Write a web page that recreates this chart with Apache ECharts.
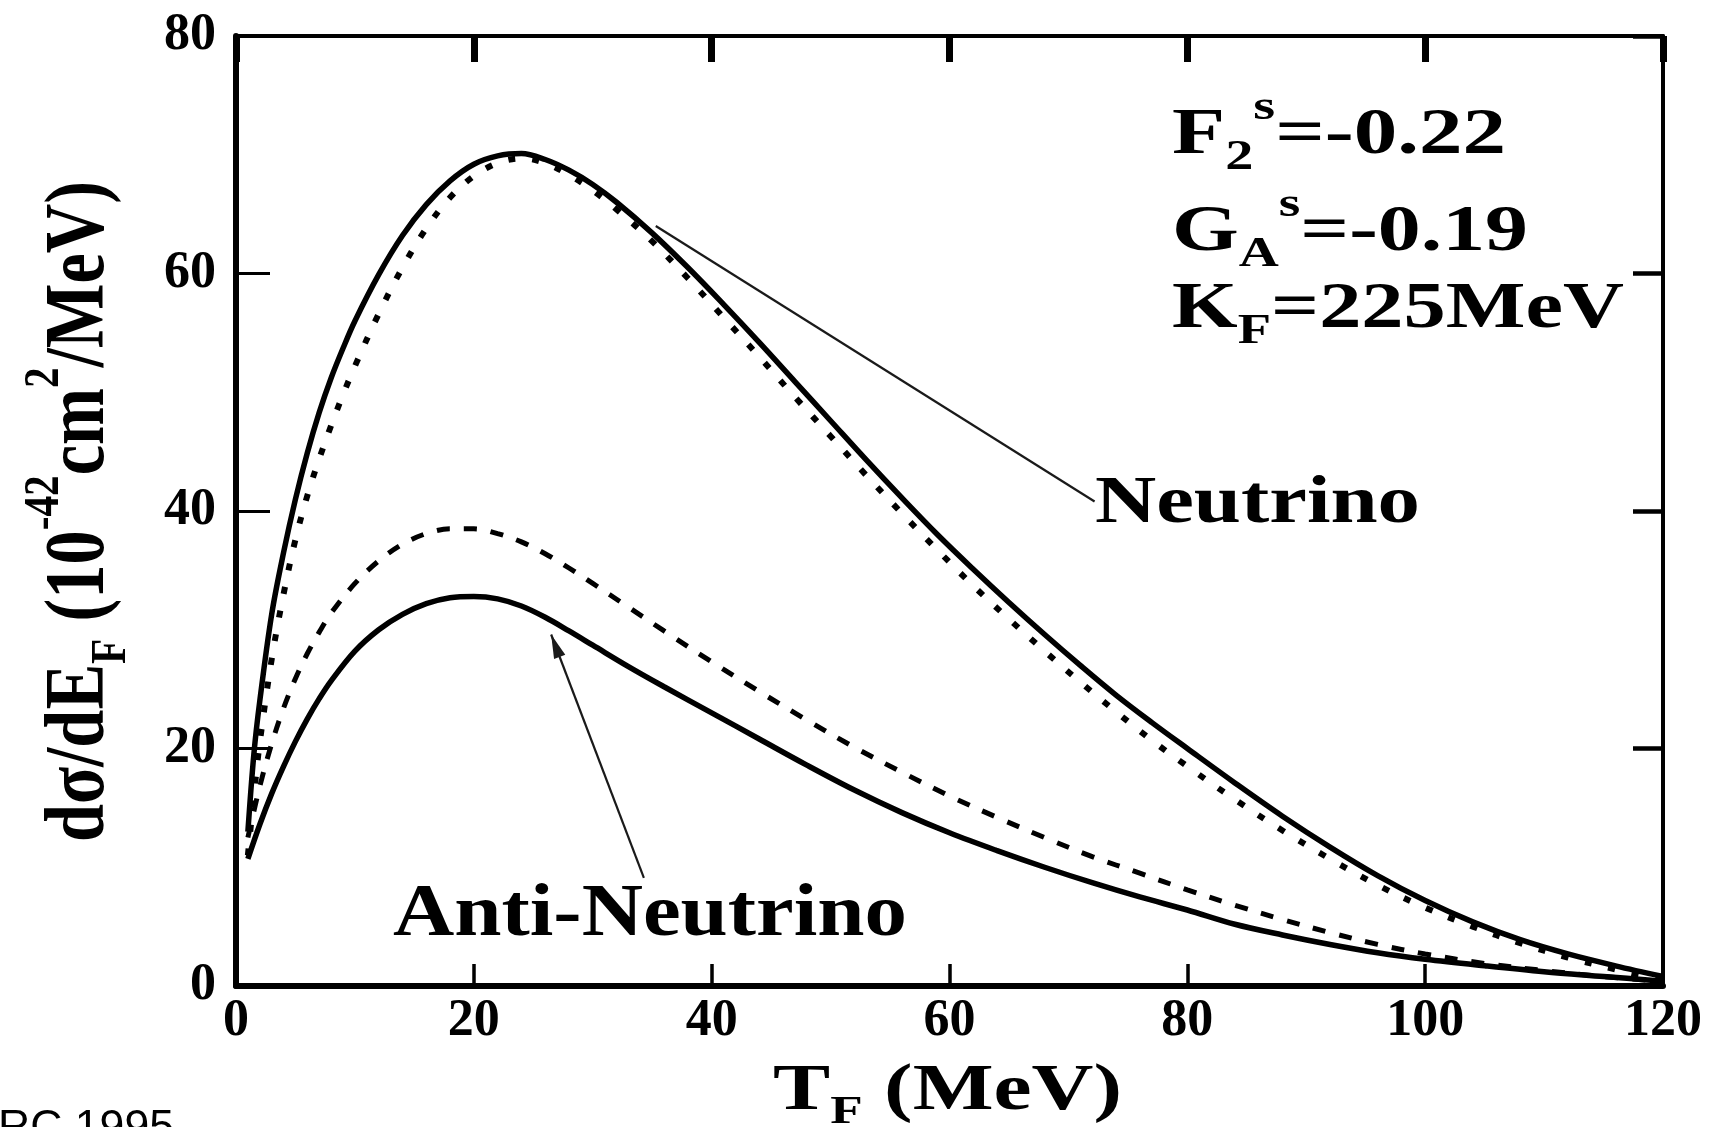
<!DOCTYPE html>
<html>
<head>
<meta charset="utf-8">
<script src="https://cdn.jsdelivr.net/npm/echarts@6/dist/echarts.min.js"></script>
<style>
  html, body { margin: 0; padding: 0; background: #fff; }
  #chart { width: 1717px; height: 1127px; }
</style>
</head>
<body>
<div id="chart"></div>
<script>
// Kinetic energy of the outgoing nucleon T_F (MeV) and dσ/dE_F (10^-42 cm^2/MeV)
const tNu      = [1, 1.5, 2, 3, 4, 5, 6, 7, 8, 9, 10, 12, 14, 16, 18, 20, 22, 24, 26, 28, 30, 32, 35, 38, 41, 44, 47, 50, 53, 56, 59, 62, 65, 68, 71, 74, 77, 80, 84, 88, 92, 96, 100, 104, 108, 112, 116, 120];
const nuSolid  = [13, 19.5, 24, 31.3, 36.5, 41, 44.9, 48.3, 51.2, 53.7, 56, 59.9, 63.2, 65.8, 67.8, 69.2, 69.9, 70.1, 69.6, 68.7, 67.5, 66, 63.4, 60.5, 57.4, 54.2, 50.9, 47.6, 44.3, 41.1, 38, 35.1, 32.3, 29.6, 27, 24.5, 22.2, 20, 17.1, 14.3, 11.7, 9.3, 7.2, 5.4, 3.9, 2.7, 1.7, 0.8];
const nuDotted = [11, 16, 20.5, 27.5, 33, 37.6, 41.3, 44.4, 47.2, 49.8, 52.2, 56.6, 60.5, 63.8, 66.4, 68.2, 69.3, 69.7, 69.3, 68.3, 67, 65.4, 62.7, 59.6, 56.3, 53, 49.6, 46.3, 43, 39.8, 36.7, 33.7, 30.9, 28.2, 25.6, 23.1, 20.7, 18.5, 15.7, 13.1, 10.7, 8.5, 6.6, 5, 3.6, 2.4, 1.4, 0.5];

const tAnti      = [1, 2, 3, 4, 5, 6, 7, 8, 10, 12, 14, 16, 18, 20, 22, 24, 26, 28, 30, 33, 36, 40, 44, 48, 52, 56, 60, 64, 68, 72, 76, 80, 84, 88, 92, 96, 100, 105, 110, 115, 120];
const antiSolid  = [10.7, 13.6, 16.2, 18.5, 20.6, 22.5, 24.2, 25.7, 28.2, 30, 31.3, 32.2, 32.7, 32.8, 32.6, 32, 31.05, 29.9, 28.7, 26.9, 25.2, 23, 20.8, 18.6, 16.5, 14.6, 12.9, 11.4, 10, 8.7, 7.5, 6.4, 5.2, 4.3, 3.5, 2.8, 2.25, 1.7, 1.2, 0.8, 0.4];
const antiDashed = [12.5, 16.8, 20.4, 23.4, 25.9, 28, 29.8, 31.4, 33.9, 35.8, 37.2, 38.1, 38.5, 38.5, 38.1, 37.4, 36.4, 35.2, 33.9, 31.9, 29.9, 27.3, 24.8, 22.4, 20.1, 18, 16, 14.2, 12.5, 10.9, 9.5, 8.1, 6.8, 5.6, 4.5, 3.5, 2.7, 1.9, 1.3, 0.8, 0.4];

const xTicks = [0, 20, 40, 60, 80, 100, 120];
const yTicks = [0, 20, 40, 60, 80];

// label pointers, [start, end] in data units; the anti-neutrino one ends in an arrowhead at its start
const nuPointer   = [[35.3, 64.0], [72.2, 40.8]];
const antiPointer = [[26.5, 29.6], [34.3, 9.1]];
const ARROW = { width: 12, length: 24 };

const pair = (xs, ys) => xs.map((x, i) => [x, ys[i]]);

const SERIF = '"Liberation Serif", "Times New Roman", serif';
const SANS = '"Liberation Sans", Arial, sans-serif';
const MID = 0.25; // offset from the alphabetic baseline to the drawn vertical middle, in em
const measureCtx = document.createElement('canvas').getContext('2d');
const fontOf = (size, family, weight) => (weight || 'bold') + ' ' + size + 'px ' + family;
function textWidth(str, size, family, weight) {
  measureCtx.font = fontOf(size, family, weight);
  return measureCtx.measureText(str).width;
}

// One line of text with sub/superscripts; pieces are [text, kind] with kind 0 normal, 1 sub, 2 sup.
// The group origin sits on the baseline at the left end of the line.
function formulaText(pieces, o) {
  const family = o.family || SERIF;
  let x = 0;
  const children = pieces.map(([str, kind]) => {
    const size = kind === 0 ? o.size : o.script;
    const shift = kind === 1 ? o.sub : kind === 2 ? -o.sup : 0;
    const el = {
      type: 'text', x: x, y: shift - MID * size, silent: true,
      style: {
        text: str, font: fontOf(size, family, o.weight), fill: '#000',
        textAlign: 'left', textVerticalAlign: 'middle'
      }
    };
    x += textWidth(str, size, family, o.weight);
    return el;
  });
  const g = { type: 'group', x: o.x, y: o.y, silent: true, children: children };
  g.scaleX = o.length ? o.length / x : 1;
  if (o.scaleY) g.scaleY = o.scaleY;
  if (o.rotation) g.rotation = o.rotation;
  return g;
}

const labelFont = { fontFamily: SERIF, fontWeight: 'bold', fontSize: 52, color: '#000' };
const xRange = { type: 'value', min: xTicks[0], max: xTicks[xTicks.length - 1], interval: xTicks[1] - xTicks[0] };
const yRange = { type: 'value', min: yTicks[0], max: yTicks[yTicks.length - 1], interval: yTicks[1] - yTicks[0] };

const chart = echarts.init(document.getElementById('chart'), null, { renderer: 'canvas' });

chart.setOption({
  animation: false,
  backgroundColor: '#fff',
  grid: { left: 236, right: 54, top: 36, bottom: 141, containLabel: false, outerBoundsMode: 'none' },
  xAxis: [
    Object.assign({}, xRange, {
      position: 'bottom',
      axisLine: { show: true, onZero: false, lineStyle: { color: '#000', width: 6 } },
      axisTick: { show: true, inside: true, length: 22, lineStyle: { color: '#000', width: 3.5 } },
      axisLabel: Object.assign({ show: true, margin: 10 }, labelFont),
      splitLine: { show: false }
    }),
    Object.assign({}, xRange, {
      position: 'top',
      axisLine: { show: true, onZero: false, lineStyle: { color: '#000', width: 4 } },
      axisTick: { show: true, inside: true, length: 26, lineStyle: { color: '#000', width: 7 } },
      axisLabel: { show: false },
      splitLine: { show: false }
    })
  ],
  yAxis: [
    Object.assign({}, yRange, {
      position: 'left',
      axisLine: { show: true, onZero: false, lineStyle: { color: '#000', width: 6 } },
      axisTick: { show: true, inside: true, length: 34, lineStyle: { color: '#000', width: 3 } },
      axisLabel: Object.assign({ show: true, margin: 20 }, labelFont),
      splitLine: { show: false }
    }),
    Object.assign({}, yRange, {
      position: 'right',
      axisLine: { show: true, onZero: false, lineStyle: { color: '#000', width: 4 } },
      axisTick: { show: true, inside: true, length: 30, lineStyle: { color: '#000', width: 4.5 } },
      axisLabel: { show: false },
      splitLine: { show: false }
    })
  ],
  series: [
    {
      name: 'neutrino', type: 'line', data: pair(tNu, nuSolid),
      symbol: 'none', smooth: 0.35, z: 4,
      lineStyle: { color: '#000', width: 5.5, type: 'solid' },
      markLine: {
        silent: true, symbol: ['none', 'none'], label: { show: false },
        lineStyle: { color: '#1a1a1a', width: 2.2, type: 'solid' },
        emphasis: { disabled: true },
        data: [[{ coord: nuPointer[0] }, { coord: nuPointer[1] }]]
      }
    },
    {
      name: 'neutrino, dotted', type: 'line', data: pair(tNu, nuDotted),
      symbol: 'none', smooth: 0.35, z: 3,
      lineStyle: { color: '#000', width: 6, type: [7, 17], cap: 'butt' }
    },
    {
      name: 'anti-neutrino', type: 'line', data: pair(tAnti, antiSolid),
      symbol: 'none', smooth: 0.35, z: 4,
      lineStyle: { color: '#000', width: 5.5, type: 'solid' },
      markLine: {
        silent: true, symbol: ['none', 'none'], label: { show: false },
        lineStyle: { color: '#1a1a1a', width: 2.2, type: 'solid' },
        emphasis: { disabled: true },
        data: [[{ coord: antiPointer[0] }, { coord: antiPointer[1] }]]
      }
    },
    {
      name: 'anti-neutrino, dashed', type: 'line', data: pair(tAnti, antiDashed),
      symbol: 'none', smooth: 0.35, z: 3,
      lineStyle: { color: '#000', width: 5, type: [13, 14], cap: 'butt' }
    },
    {
      id: 'arrowhead', type: 'scatter', data: [antiPointer[0]], silent: true, z: 5,
      symbol: 'triangle', symbolSize: [ARROW.width, ARROW.length],
      itemStyle: { color: '#1a1a1a', opacity: 1 }
    }
  ],
  graphic: [
    // parameter block
    formulaText([['F', 0], ['2', 1], ['s', 2], ['=-0.22', 0]],
      { x: 1172, y: 152, size: 65, script: 42, sub: 17, sup: 33, length: 334 }),
    formulaText([['G', 0], ['A', 1], ['s', 2], ['=-0.19', 0]],
      { x: 1172, y: 249, size: 65, script: 42, sub: 17, sup: 33, length: 356 }),
    formulaText([['K', 0], ['F', 1], ['=225MeV', 0]],
      { x: 1172, y: 326, size: 65, script: 42, sub: 17, sup: 33, length: 452 }),
    // curve labels
    formulaText([['Neutrino', 0]], { x: 1095, y: 521, size: 68, script: 40, sub: 0, sup: 0, length: 325 }),
    formulaText([['Anti-Neutrino', 0]], { x: 393, y: 934, size: 75, script: 40, sub: 0, sup: 0, length: 514 }),
    // axis titles
    formulaText([['T', 0], ['F', 1], [' (MeV)', 0]],
      { x: 773, y: 1108, size: 66, script: 41, sub: 15, sup: 0, length: 349 }),
    formulaText([['dσ/dE', 0], ['F', 1], [' (10', 0], ['-42', 2], ['cm', 0], ['2', 2], ['/MeV)', 0]],
      { x: 102, y: 842, size: 68, script: 41, sub: 18, sup: 36, length: 661, scaleY: 1.24, rotation: Math.PI / 2 }),
    // source note
    formulaText([['RC 1995', 0]],
      { x: -2, y: 1140, size: 44, script: 30, sub: 0, sup: 0, family: SANS, weight: 'normal', length: 176 })
  ]
});

// Arrowhead: tip on the pointer's start, rotated along the pointer
(function placeArrowhead() {
  const tip = chart.convertToPixel({ gridIndex: 0 }, antiPointer[0]);
  const tail = chart.convertToPixel({ gridIndex: 0 }, antiPointer[1]);
  const dx = tip[0] - tail[0], dy = tip[1] - tail[1];
  const len = Math.hypot(dx, dy);
  const ux = dx / len, uy = dy / len;
  const center = [tip[0] - ux * ARROW.length / 2, tip[1] - uy * ARROW.length / 2];
  const angle = Math.atan2(-ux, -uy) * 180 / Math.PI;
  chart.setOption({
    series: [{ id: 'arrowhead', data: [chart.convertFromPixel({ gridIndex: 0 }, center)], symbolRotate: angle }]
  });
})();
</script>
</body>
</html>
